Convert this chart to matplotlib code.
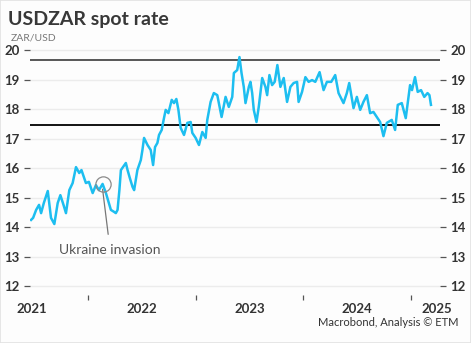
import matplotlib
matplotlib.use("Agg")
import matplotlib.pyplot as plt
from matplotlib.patches import Rectangle

plt.rcParams['font.family'] = ['Lato', 'DejaVu Sans']

# USDZAR spot rate, decimal-year dates and ZAR per USD
dates = [
    2021.472, 2021.491, 2021.519, 2021.546, 2021.565, 2021.590, 2021.627, 2021.657,
    2021.688, 2021.719, 2021.744, 2021.773, 2021.796, 2021.827, 2021.858, 2021.889,
    2021.919, 2021.940, 2021.981, 2022.009, 2022.044, 2022.074, 2022.102, 2022.120,
    2022.136, 2022.167, 2022.213, 2022.244, 2022.259, 2022.275, 2022.292, 2022.306,
    2022.333, 2022.352, 2022.368, 2022.389, 2022.414, 2022.429, 2022.459, 2022.491,
    2022.506, 2022.521, 2022.553, 2022.583, 2022.605, 2022.623, 2022.645, 2022.660,
    2022.685, 2022.706, 2022.722, 2022.747, 2022.778, 2022.799, 2022.821, 2022.840,
    2022.861, 2022.892, 2022.923, 2022.954, 2022.969, 2023.000, 2023.031, 2023.062,
    2023.093, 2023.108, 2023.139, 2023.169, 2023.201, 2023.241, 2023.278, 2023.308,
    2023.340, 2023.355, 2023.386, 2023.407, 2023.426, 2023.447, 2023.463, 2023.494,
    2023.509, 2023.525, 2023.540, 2023.565, 2023.586, 2023.618, 2023.648, 2023.664,
    2023.685, 2023.710, 2023.734, 2023.759, 2023.787, 2023.818, 2023.849, 2023.880,
    2023.910, 2023.942, 2023.956, 2023.988, 2024.019, 2024.049, 2024.081, 2024.111,
    2024.151, 2024.188, 2024.219, 2024.259, 2024.296, 2024.327, 2024.373, 2024.404,
    2024.426, 2024.466, 2024.497, 2024.528, 2024.558, 2024.590, 2024.620, 2024.651,
    2024.682, 2024.713, 2024.744, 2024.775, 2024.821, 2024.852, 2024.877, 2024.914,
    2024.951, 2024.991, 2025.009, 2025.037, 2025.062, 2025.093, 2025.123, 2025.153,
    2025.171, 2025.185,
]
usdzar = [
    14.24, 14.31, 14.58, 14.75, 14.47, 14.81, 15.22, 14.31,
    14.10, 14.81, 15.08, 14.75, 14.47, 15.25, 15.49, 16.03,
    15.83, 15.93, 15.49, 15.53, 15.15, 15.42, 15.25, 15.36,
    15.46, 15.15, 14.58, 14.51, 14.47, 14.58, 15.25, 15.93,
    16.07, 16.17, 15.93, 15.66, 15.36, 15.25, 15.93, 16.27,
    16.61, 17.02, 16.78, 16.61, 16.10, 16.71, 16.85, 17.12,
    17.29, 17.69, 17.97, 17.86, 18.31, 18.20, 18.34, 17.97,
    17.36, 17.12, 17.53, 17.56, 17.19, 17.02, 16.78, 17.22,
    17.02, 17.63, 18.24, 18.54, 18.47, 17.73, 18.41, 18.07,
    18.41, 19.22, 19.32, 19.76, 19.22, 18.75, 18.20, 18.75,
    18.92, 18.54, 17.97, 17.56, 18.07, 19.05, 18.75, 18.47,
    19.15, 18.81, 18.92, 19.49, 18.75, 19.05, 18.24, 18.75,
    18.88, 18.92, 18.24, 18.58, 19.08, 18.92, 18.98, 18.92,
    19.25, 18.64, 18.92, 18.92, 19.15, 18.54, 18.20, 18.54,
    18.88, 18.03, 18.41, 17.97, 18.24, 18.47, 17.86, 17.90,
    17.73, 17.56, 17.08, 17.53, 17.63, 17.29, 18.14, 18.20,
    17.69, 18.81, 18.64, 19.08, 18.58, 18.64, 18.41, 18.54,
    18.47, 18.14,
]

# Trading range bounds
range_high = 19.66
range_low = 17.45

# Event marker
event_label = "Ukraine invasion"
event_date = 2022.136
event_value = 15.46

years = [2021, 2022, 2023, 2024, 2025]
year_bounds = [2022, 2023, 2024, 2025]
y_ticks = [12, 13, 14, 15, 16, 17, 18, 19, 20]

x_min, x_max = 2021.462, 2025.269
y_min, y_max = 11.7, 20.3

W, H = 471, 343
fig = plt.figure(figsize=(W / 100, H / 100), dpi=100, facecolor="#fdfdfd")
fig.patches.append(Rectangle((0, 0), 1, 1, transform=fig.transFigure,
                             fill=False, edgecolor="#e2e2e2", linewidth=1.2))

ax = fig.add_axes([30 / W, (H - 294.85) / H, 410 / W, 253.7 / H])
ax.set_facecolor("#fdfdfd")
ax.set_xlim(x_min, x_max)
ax.set_ylim(y_min, y_max)
for s in ax.spines.values():
    s.set_visible(False)

# Grid
for v in y_ticks:
    ax.axhline(v, color="#ececec", linewidth=1.0, zorder=0)

# Range lines
ax.axhline(range_high, color="#4a4a4a", linewidth=1.3, zorder=2)
ax.axhline(range_low, color="#000000", linewidth=1.3, zorder=2)

# Series
ax.plot(dates, usdzar, color="#1dbef0", linewidth=1.8, zorder=3,
        solid_joinstyle="round")

# Y axis on both sides
ax.set_yticks(y_ticks)
ax.set_yticklabels([str(v) for v in y_ticks])
ax.tick_params(axis="y", which="major", left=True, right=True,
               labelleft=True, labelright=True, length=4.5, width=0.9,
               color="#555555", pad=3, labelsize=9.5, labelcolor="#333333")
for lab in ax.get_yticklabels():
    lab.set_fontweight("bold")

# X axis: tick marks at year boundaries, labels mid-year
ax.set_xticks(year_bounds)
ax.set_xticklabels([""] * len(year_bounds))
ax.tick_params(axis="x", which="major", length=3.5, width=0.9,
               color="#555555", pad=0)
label_pos = [min(y + 0.5, x_max - 0.03) for y in years]
label_pos[0] = years[0] + 0.48
ax.set_xticks(label_pos, minor=True)
ax.set_xticklabels([str(y) for y in years], minor=True)
ax.tick_params(axis="x", which="minor", length=0, pad=6, labelsize=9.5,
               labelcolor="#333333")
for lab in ax.get_xticklabels(minor=True):
    lab.set_fontweight("bold")

# Event annotation
ax.plot([event_date], [event_value], marker="o", markersize=11,
        markerfacecolor="none", markeredgecolor="#8a8a8a",
        markeredgewidth=0.9, zorder=4)
ax.annotate(event_label, xy=(event_date, event_value - 0.18),
            xytext=(2022.206, 13.22), textcoords="data",
            ha="center", va="center", fontsize=10, color="#555555",
            arrowprops=dict(arrowstyle="-", color="#777777", linewidth=0.9,
                            shrinkA=5, shrinkB=0))

# Titles and source
fig.text(8 / W, 1 - 19 / H, "USDZAR spot rate", fontsize=14,
         fontweight="bold", color="#383838", ha="left", va="center")
fig.text(11 / W, 1 - 38 / H, "ZAR/USD", fontsize=7.5, color="#777777",
         ha="left", va="center")
fig.text(459 / W, 1 - 323 / H, "Macrobond, Analysis \u00a9 ETM", fontsize=8,
         color="#333333", ha="right", va="center")

fig.savefig("out.png", dpi=100, facecolor=fig.get_facecolor())
